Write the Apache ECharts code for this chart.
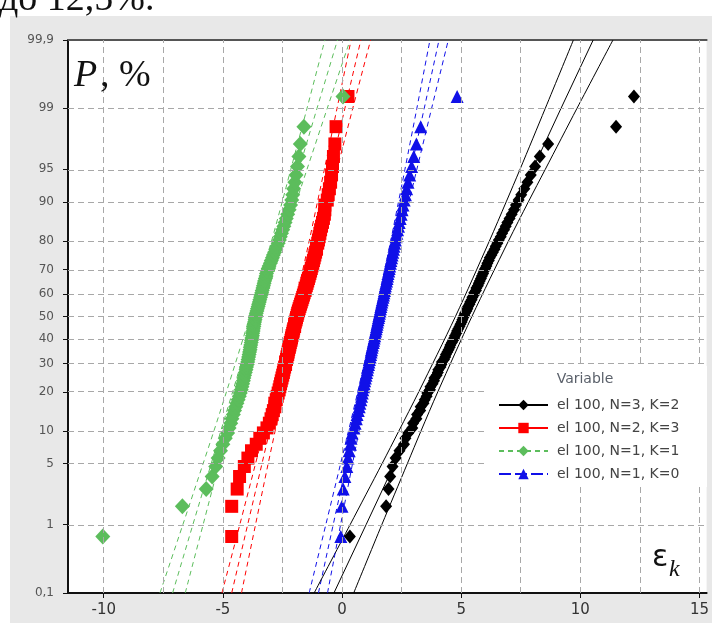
<!DOCTYPE html>
<html>
<head>
<meta charset="utf-8">
<script src="https://cdn.jsdelivr.net/npm/echarts@6/dist/echarts.min.js"></script>
<style>
  html, body { margin: 0; padding: 0; background: #fff; }
  #wrap { position: relative; width: 712px; height: 623px; overflow: hidden; }
  #panel { position: absolute; left: 10px; top: 16px; right: 0; bottom: 0; background: #e8e8e8; }
  #chart { position: absolute; left: 0; top: 0; width: 712px; height: 623px; }
</style>
</head>
<body>
<div id="wrap"><div id="panel"></div><div id="chart"></div></div>
<script>
// ---- axis ticks ----
const xTicks = [-10, -5, 0, 5, 10, 15];
const xGridLines = [-10, -7.5, -5, -2.5, 0, 2.5, 5, 7.5, 10, 12.5, 15];
const yTickProbs = [0.1, 1, 5, 10, 20, 30, 40, 50, 60, 70, 80, 90, 95, 99, 99.9];
const yTickLabels = ['0,1', '1', '5', '10', '20', '30', '40', '50', '60', '70', '80', '90', '95', '99', '99,9'];

// ---- groups ----
const groupNames = ['el 100, N=3, K=2', 'el 100, N=2, K=3', 'el 100, N=1, K=1', 'el 100, N=1, K=0'];

// sorted sample values (epsilon_k), 100 per group
const blackVals = [
  0.33, 1.85, 1.95, 2.02, 2.12, 2.25, 2.41, 2.60, 2.66, 2.78,
  2.95, 2.98, 3.12, 3.15, 3.28, 3.30, 3.42, 3.47, 3.55, 3.58,
  3.69, 3.71, 3.80, 3.86, 3.88, 3.97, 4.02, 4.04, 4.13, 4.17,
  4.19, 4.28, 4.33, 4.36, 4.42, 4.47, 4.52, 4.55, 4.61, 4.66,
  4.71, 4.74, 4.80, 4.83, 4.88, 4.93, 4.97, 5.02, 5.05, 5.09,
  5.13, 5.16, 5.22, 5.26, 5.29, 5.35, 5.38, 5.44, 5.47, 5.53,
  5.55, 5.62, 5.64, 5.70, 5.74, 5.78, 5.83, 5.87, 5.92, 5.95,
  6.01, 6.06, 6.10, 6.16, 6.20, 6.27, 6.33, 6.40, 6.45, 6.52,
  6.58, 6.66, 6.72, 6.80, 6.87, 6.94, 7.03, 7.12, 7.22, 7.30,
  7.41, 7.52, 7.65, 7.78, 7.92, 8.10, 8.30, 8.65, 11.50, 12.25
];
const redVals = [
  -4.63, -4.63, -4.40, -4.30, -4.10, -3.95, -3.80, -3.60, -3.45, -3.30,
  -3.15, -3.05, -2.98, -2.93, -2.88, -2.82, -2.82, -2.76, -2.72, -2.68,
  -2.64, -2.61, -2.58, -2.55, -2.52, -2.49, -2.46, -2.44, -2.41, -2.37,
  -2.37, -2.33, -2.31, -2.28, -2.26, -2.24, -2.21, -2.19, -2.17, -2.14,
  -2.12, -2.10, -2.07, -2.05, -2.03, -1.99, -1.99, -1.96, -1.93, -1.91,
  -1.88, -1.86, -1.83, -1.80, -1.77, -1.74, -1.71, -1.68, -1.65, -1.62,
  -1.59, -1.55, -1.55, -1.50, -1.47, -1.44, -1.41, -1.38, -1.35, -1.32,
  -1.29, -1.26, -1.23, -1.20, -1.17, -1.14, -1.11, -1.07, -1.07, -1.02,
  -0.99, -0.96, -0.93, -0.90, -0.86, -0.82, -0.78, -0.74, -0.72, -0.72,
  -0.62, -0.58, -0.53, -0.48, -0.44, -0.40, -0.36, -0.30, -0.25, 0.25
];
const greenVals = [
  -10.04, -6.70, -5.70, -5.45, -5.30, -5.20, -5.10, -5.00, -4.90, -4.80,
  -4.74, -4.67, -4.62, -4.56, -4.51, -4.46, -4.41, -4.36, -4.31, -4.27,
  -4.23, -4.20, -4.17, -4.14, -4.12, -4.09, -4.06, -4.03, -4.01, -3.98,
  -3.96, -3.94, -3.92, -3.90, -3.88, -3.86, -3.85, -3.83, -3.81, -3.80,
  -3.78, -3.76, -3.75, -3.73, -3.72, -3.70, -3.69, -3.67, -3.65, -3.64,
  -3.62, -3.60, -3.57, -3.55, -3.52, -3.50, -3.47, -3.45, -3.42, -3.40,
  -3.37, -3.35, -3.32, -3.30, -3.27, -3.25, -3.22, -3.19, -3.17, -3.14,
  -3.10, -3.06, -3.01, -2.97, -2.92, -2.88, -2.83, -2.78, -2.73, -2.68,
  -2.63, -2.59, -2.54, -2.49, -2.44, -2.39, -2.34, -2.28, -2.22, -2.16,
  -2.11, -2.07, -2.03, -1.98, -1.93, -1.87, -1.81, -1.75, -1.60, 0.04
];
const blueVals = [
  -0.05, 0.00, 0.05, 0.12, 0.20, 0.25, 0.30, 0.35, 0.38, 0.42,
  0.50, 0.55, 0.60, 0.63, 0.68, 0.72, 0.75, 0.79, 0.82, 0.85,
  0.87, 0.90, 0.93, 0.95, 0.98, 1.01, 1.03, 1.06, 1.08, 1.11,
  1.13, 1.15, 1.18, 1.20, 1.22, 1.24, 1.26, 1.28, 1.31, 1.33,
  1.35, 1.37, 1.39, 1.41, 1.43, 1.45, 1.47, 1.49, 1.51, 1.53,
  1.55, 1.57, 1.59, 1.61, 1.63, 1.65, 1.67, 1.69, 1.72, 1.74,
  1.76, 1.78, 1.80, 1.82, 1.84, 1.87, 1.89, 1.91, 1.93, 1.96,
  1.98, 2.00, 2.03, 2.05, 2.08, 2.10, 2.13, 2.16, 2.18, 2.21,
  2.24, 2.27, 2.30, 2.33, 2.37, 2.40, 2.44, 2.48, 2.52, 2.56,
  2.61, 2.66, 2.71, 2.77, 2.84, 2.92, 3.01, 3.12, 3.30, 4.83
];

// fitted line and 95% confidence bands, x at these percent levels
const bandProbs = [0.1, 1, 5, 10, 20, 50, 80, 90, 95, 99, 99.9];
const blackFit   = [-0.34, 1.01, 2.21, 2.84, 3.62, 5.10, 6.58, 7.36, 8.00, 9.19, 10.54];
const blackLower = [-1.17, 0.34, 1.68, 2.38, 3.22, 4.76, 6.18, 6.89, 7.47, 8.53, 9.71];
const blackUpper = [0.49, 1.67, 2.74, 3.31, 4.02, 5.45, 6.98, 7.82, 8.53, 9.86, 11.37];
const redFit     = [-4.63, -3.96, -3.36, -3.04, -2.66, -1.92, -1.18, -0.80, -0.48, 0.12, 0.79];
const redLower   = [-5.04, -4.29, -3.63, -3.28, -2.86, -2.09, -1.38, -1.03, -0.74, -0.21, 0.38];
const redUpper   = [-4.22, -3.63, -3.10, -2.81, -2.46, -1.75, -0.98, -0.56, -0.21, 0.45, 1.20];
const greenFit   = [-7.11, -6.26, -5.49, -5.09, -4.59, -3.65, -2.71, -2.21, -1.81, -1.05, -0.19];
const greenLower = [-7.64, -6.68, -5.83, -5.38, -4.85, -3.87, -2.96, -2.51, -2.15, -1.47, -0.72];
const greenUpper = [-6.58, -5.83, -5.16, -4.79, -4.34, -3.43, -2.45, -1.92, -1.47, -0.62, 0.34];
const blueFit    = [-0.99, -0.37, 0.19, 0.49, 0.85, 1.54, 2.23, 2.59, 2.89, 3.45, 4.07];
const blueLower  = [-1.38, -0.68, -0.06, 0.27, 0.66, 1.38, 2.04, 2.37, 2.64, 3.14, 3.69];
const blueUpper  = [-0.61, -0.06, 0.44, 0.71, 1.04, 1.70, 2.42, 2.81, 3.14, 3.76, 4.46];

// inverse standard normal CDF (Acklam)
function probit(p) {
  const a = [-3.969683028665376e+01, 2.209460984245205e+02, -2.759285104469687e+02, 1.383577518672690e+02, -3.066479806614716e+01, 2.506628277459239e+00];
  const b = [-5.447609879822406e+01, 1.615858368580409e+02, -1.556989798598866e+02, 6.680131188771972e+01, -1.328068155288572e+01];
  const c = [-7.784894002430293e-03, -3.223964580411365e-01, -2.400758277161838e+00, -2.549671010229297e+00, 4.374664141464968e+00, 2.938163982698783e+00];
  const d = [7.784695709041462e-03, 3.224671290700398e-01, 2.445134137142996e+00, 3.754408661907416e+00];
  const pl = 0.02425, ph = 1 - pl;
  let q, r;
  if (p < pl) {
    q = Math.sqrt(-2 * Math.log(p));
    return (((((c[0]*q+c[1])*q+c[2])*q+c[3])*q+c[4])*q+c[5]) / ((((d[0]*q+d[1])*q+d[2])*q+d[3])*q+1);
  }
  if (p <= ph) {
    q = p - 0.5; r = q * q;
    return (((((a[0]*r+a[1])*r+a[2])*r+a[3])*r+a[4])*r+a[5])*q / (((((b[0]*r+b[1])*r+b[2])*r+b[3])*r+b[4])*r+1);
  }
  q = Math.sqrt(-2 * Math.log(1 - p));
  return -(((((c[0]*q+c[1])*q+c[2])*q+c[3])*q+c[4])*q+c[5]) / ((((d[0]*q+d[1])*q+d[2])*q+d[3])*q+1);
}
const zOfPercent = pc => probit(pc / 100);

// median-rank plotting position of the i-th ordered value
const medianRank = (i, n) => (i + 1 - 0.3) / (n + 0.4);

const zMin = zOfPercent(0.1), zMax = zOfPercent(99.9);
const yTickZ = yTickProbs.map(zOfPercent);
const yGridZ = yTickProbs.slice(1, -1).map(zOfPercent);

function yLabel(v) {
  let best = 0;
  for (let i = 1; i < yTickZ.length; i++) {
    if (Math.abs(yTickZ[i] - v) < Math.abs(yTickZ[best] - v)) best = i;
  }
  return yTickLabels[best];
}

const groups = [
  { name: groupNames[0], color: '#000000', symbol: 'diamond', size: [12, 14], vals: blackVals, fit: blackFit, lo: blackLower, hi: blackUpper, dash: 'solid', legendDash: 'solid' },
  { name: groupNames[1], color: '#ff0000', symbol: 'rect', size: 13, vals: redVals, fit: redFit, lo: redLower, hi: redUpper, dash: [5, 4], legendDash: 'solid' },
  { name: groupNames[2], color: '#5cbd5c', symbol: 'diamond', size: [15, 16], vals: greenVals, fit: greenFit, lo: greenLower, hi: greenUpper, dash: [5, 4], legendDash: [5, 4] },
  { name: groupNames[3], color: '#1010e8', symbol: 'triangle', size: 13, vals: blueVals, fit: blueFit, lo: blueLower, hi: blueUpper, dash: [5, 4], legendDash: [12, 4] }
];

const toLine = arr => arr.map((x, k) => [x, zOfPercent(bandProbs[k])]);

const series = [];
// dashed grid
series.push({
  type: 'line', name: 'grid', data: [], silent: true,
  markLine: {
    silent: true, symbol: ['none', 'none'], animation: false,
    label: { show: false },
    lineStyle: { color: '#a8a8a8', type: [6, 4], width: 1 },
    data: xGridLines.map(v => ({ xAxis: v })).concat(yGridZ.map(v => ({ yAxis: v })))
  },
  z: 1
});
// fitted lines (carry the legend icons)
groups.forEach(g => {
  series.push({
    type: 'line', name: g.name, data: toLine(g.fit),
    symbol: g.symbol, symbolSize: 12, showSymbol: false, silent: true,
    color: g.color, itemStyle: { color: g.color },
    lineStyle: { color: g.color, width: 1, type: g.dash }, z: 2
  });
});
// confidence bands
groups.forEach((g, k) => {
  [g.lo, g.hi].forEach((arr, j) => {
    series.push({
      type: 'line', name: 'band' + k + '_' + j, data: toLine(arr),
      symbol: 'none', showSymbol: false, silent: true, smooth: 0.3,
      lineStyle: { color: g.color, width: 1, type: g.dash }, z: 2
    });
  });
});
// points
groups.forEach((g, k) => {
  const n = g.vals.length;
  series.push({
    type: 'scatter', name: 'pts' + k,
    data: g.vals.map((x, i) => [x, probit(medianRank(i, n))]),
    symbol: g.symbol, symbolSize: g.size, silent: true,
    itemStyle: { color: g.color, opacity: 1 }, z: 3
  });
});

const chart = echarts.init(document.getElementById('chart'), null, { renderer: 'canvas' });
chart.setOption({
  animation: false,
  backgroundColor: 'transparent',
  grid: { left: 68, right: 1, top: 40, bottom: 30, show: true, backgroundColor: '#ffffff', borderWidth: 0 },
  xAxis: [
    {
      type: 'value', min: -11.5, max: 15.3, position: 'bottom',
      axisLine: { onZero: false, lineStyle: { color: '#111', width: 2 } },
      axisTick: { show: true, customValues: xTicks, length: 5, lineStyle: { color: '#111' } },
      axisLabel: { customValues: xTicks, margin: 10, fontSize: 15, color: '#333', fontFamily: 'DejaVu Sans' },
      splitLine: { show: false }
    },
    {
      type: 'value', min: -11.5, max: 15.3, position: 'top',
      axisLine: { onZero: false, lineStyle: { color: '#555', width: 2 } },
      axisTick: { show: false }, axisLabel: { show: false }, splitLine: { show: false }
    }
  ],
  yAxis: {
    type: 'value', min: zMin, max: zMax,
    axisLine: { show: true, onZero: false, lineStyle: { color: '#111', width: 2 } },
    axisTick: { show: true, customValues: yTickZ, length: 5, lineStyle: { color: '#111' } },
    axisLabel: { customValues: yTickZ, formatter: yLabel, margin: 14, fontSize: 12, color: '#555', fontFamily: 'DejaVu Sans' },
    splitLine: { show: false }
  },
  legend: {
    orient: 'vertical', left: 493, top: 393, z: 10,
    itemWidth: 49, itemHeight: 13, itemGap: 9, selectedMode: false,
    textStyle: { fontSize: 14, color: '#444', fontFamily: 'DejaVu Sans', padding: [0, 0, 0, 4] },
    data: groups.map(g => ({ name: g.name, lineStyle: { type: g.legendDash } }))
  },
  graphic: [
    { type: 'rect', z: 9, silent: true, shape: { x: 488, y: 366, width: 219, height: 121 }, style: { fill: '#ffffff' } },
    { type: 'text', z: 11, silent: true, style: { text: 'Variable', x: 585, y: 379, font: '14px "DejaVu Sans"', fill: '#5a606a', textAlign: 'center', textVerticalAlign: 'middle' } },
    { type: 'text', z: 11, silent: true, style: { text: 'P', x: 74, y: 76, font: 'italic 38px "Liberation Serif"', fill: '#111', textAlign: 'left', textVerticalAlign: 'middle' } },
    { type: 'text', z: 11, silent: true, style: { text: ', %', x: 100, y: 76, font: '38px "Liberation Serif"', fill: '#111', textAlign: 'left', textVerticalAlign: 'middle' } },
    { type: 'text', z: 11, silent: true, style: { text: 'ε', x: 652, y: 558, font: '30px "DejaVu Sans"', fill: '#111', textAlign: 'left', textVerticalAlign: 'middle' } },
    { type: 'text', z: 11, silent: true, style: { text: 'k', x: 669, y: 570, font: 'italic 24px "Liberation Serif"', fill: '#111', textAlign: 'left', textVerticalAlign: 'middle' } },
    { type: 'text', z: 0, silent: true, style: { text: 'до 12,5%.', x: -1, y: 19, font: '38px "Liberation Serif"', fill: '#111', textAlign: 'left', textVerticalAlign: 'bottom' } }
  ],
  series: series
});
</script>
</body>
</html>
